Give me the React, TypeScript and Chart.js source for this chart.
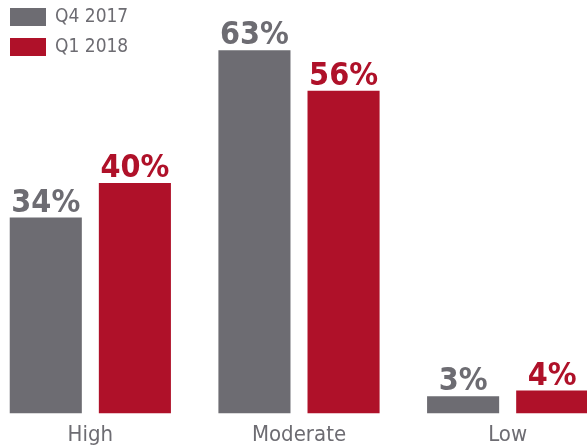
import React, { useEffect, useRef } from "react";
import { Chart, registerables } from "chart.js";

Chart.register(...registerables);

const categories = ["High", "Moderate", "Low"];
const seriesNames = ["Q4 2017", "Q1 2018"];
const q4_2017 = [34, 63, 3];
const q1_2018 = [40, 56, 4];
const colors = ["#6d6c72", "#af1129"];
const FONT = "'DejaVu Sans Condensed', 'DejaVu Sans', sans-serif";

const valueLabels = {
  id: "valueLabels",
  afterDatasetsDraw(chart: any) {
    const ctx = chart.ctx;
    ctx.save();
    ctx.font = `bold 32px ${FONT}`;
    ctx.textAlign = "center";
    ctx.textBaseline = "alphabetic";
    chart.data.datasets.forEach((ds: any, i: number) => {
      const meta = chart.getDatasetMeta(i);
      meta.data.forEach((bar: any, j: number) => {
        ctx.fillStyle = ds.backgroundColor;
        ctx.fillText(`${ds.data[j]}%`, bar.x, bar.y - 6);
      });
    });
    ctx.restore();
  },
};

const sideLegend = {
  id: "sideLegend",
  afterDraw(chart: any) {
    const ctx = chart.ctx;
    ctx.save();
    ctx.font = `19px ${FONT}`;
    ctx.textBaseline = "middle";
    ctx.textAlign = "left";
    chart.data.datasets.forEach((ds: any, i: number) => {
      const y = 8 + i * 30;
      ctx.fillStyle = ds.backgroundColor;
      ctx.fillRect(24, y, 36, 18);
      ctx.fillStyle = "#6d6c72";
      ctx.fillText(ds.label, 69, y + 9);
    });
    ctx.restore();
  },
};

export default function App() {
  const ref = useRef<HTMLCanvasElement>(null);
  useEffect(() => {
    if (!ref.current) return;
    const chart = new Chart(ref.current, {
      type: "bar",
      data: {
        labels: categories,
        datasets: [
          { label: seriesNames[0], data: q4_2017, backgroundColor: colors[0] },
          { label: seriesNames[1], data: q1_2018, backgroundColor: colors[1] },
        ],
      },
      options: {
        responsive: false,
        animation: false,
        devicePixelRatio: 1,
        layout: { padding: { top: 10, bottom: -2, left: 0, right: 0 } },
        datasets: {
          bar: { categoryPercentage: 0.854, barPercentage: 0.809 },
        },
        plugins: {
          legend: { display: false },
          tooltip: { enabled: false },
        },
        scales: {
          x: {
            grid: { display: false },
            border: { display: false },
            ticks: { padding: 0, color: "#6d6c72", font: { size: 22, family: FONT } },
          },
          y: { display: false, min: 0, max: 70 },
        },
      },
      plugins: [valueLabels, sideLegend],
    });
    return () => chart.destroy();
  }, []);
  return (
    <div style={{ position: "fixed", left: 0, top: 0, width: 587, height: 446, overflow: "hidden", background: "#fff" }}>
      <canvas
        ref={ref}
        width={626}
        height={446}
        style={{ position: "absolute", left: -14, top: 0, width: 626, height: 446 }}
      />
    </div>
  );
}
